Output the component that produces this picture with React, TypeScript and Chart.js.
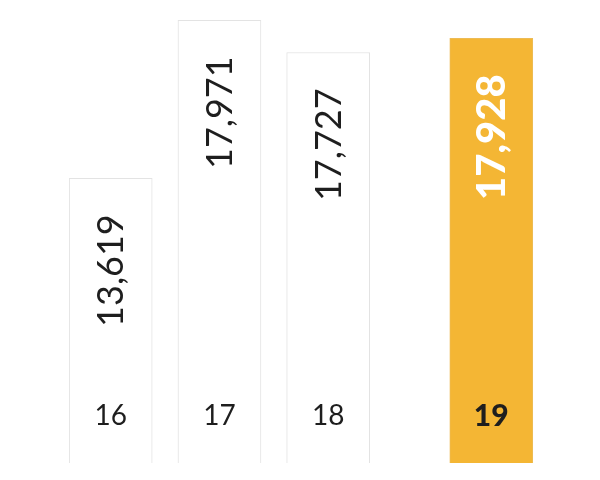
import { useEffect, useRef } from "react";
import { Chart, registerables } from "chart.js";

Chart.register(...registerables);

const categories = ["16", "17", "18", "19"];
const slotPositions = [0, 1, 2, 3.5];
const values = [13619, 17971, 17727, 17928];
const barLevels = [11560, 17971, 16670, 17240];
const highlightIndex = 3;

const fmt = (v: number) => v.toLocaleString("en-US");

const labelPlugin = {
  id: "barLabels",
  afterDatasetsDraw(chart: any) {
    const { ctx } = chart;
    const meta = chart.getDatasetMeta(0);
    meta.data.forEach((bar: any, i: number) => {
      const hl = i === highlightIndex;
      const x = bar.x;
      const top = bar.y;
      const bottom = bar.base;
      ctx.save();
      ctx.translate(x + 1, top + 36);
      ctx.rotate(-Math.PI / 2);
      ctx.textAlign = "right";
      ctx.textBaseline = "middle";
      ctx.fillStyle = hl ? "#ffffff" : "#1e1e1e";
      ctx.font = hl ? "900 40px Lato" : "400 36px Lato";
      ctx.fillText(fmt(values[i]), 0, 0);
      ctx.restore();
      ctx.save();
      ctx.textAlign = "center";
      ctx.textBaseline = "middle";
      ctx.fillStyle = "#1e1e1e";
      ctx.font = hl ? "900 30px Lato" : "400 28px Lato";
      ctx.fillText(categories[i], x, bottom - 47);
      ctx.restore();
    });
  },
};

export default function App() {
  const ref = useRef<HTMLCanvasElement | null>(null);
  useEffect(() => {
    if (!ref.current) return;
    const chart = new Chart(ref.current, {
      type: "bar",
      data: {
        datasets: [
          {
            data: slotPositions.map((p, i) => ({ x: p, y: barLevels[i] })),
            backgroundColor: categories.map((_, i) => (i === highlightIndex ? "#F4B634" : "#ffffff")),
            borderColor: categories.map((_, i) => (i === highlightIndex ? "#EDBB55" : "#E3E3E3")),
            borderWidth: { top: 1, left: 1, right: 1, bottom: 0 },
            borderSkipped: "bottom",
            barThickness: 83,
          },
        ],
      },
      options: {
        responsive: false,
        animation: false,
        layout: { padding: { left: 2, right: 0, top: 0, bottom: 17 } },
        plugins: { legend: { display: false }, tooltip: { enabled: false } },
        scales: {
          x: { type: "linear", min: -1, max: 4.5, offset: false, display: false },
          y: { min: 0, max: 18800, display: false },
        },
      },
      plugins: [labelPlugin],
    });
    return () => chart.destroy();
  }, []);
  return (
    <div style={{ position: "fixed", left: 0, top: 0, width: 600, height: 480, background: "#fff" }}>
      <canvas ref={ref} width={600} height={480} style={{ width: 600, height: 480 }} />
    </div>
  );
}
